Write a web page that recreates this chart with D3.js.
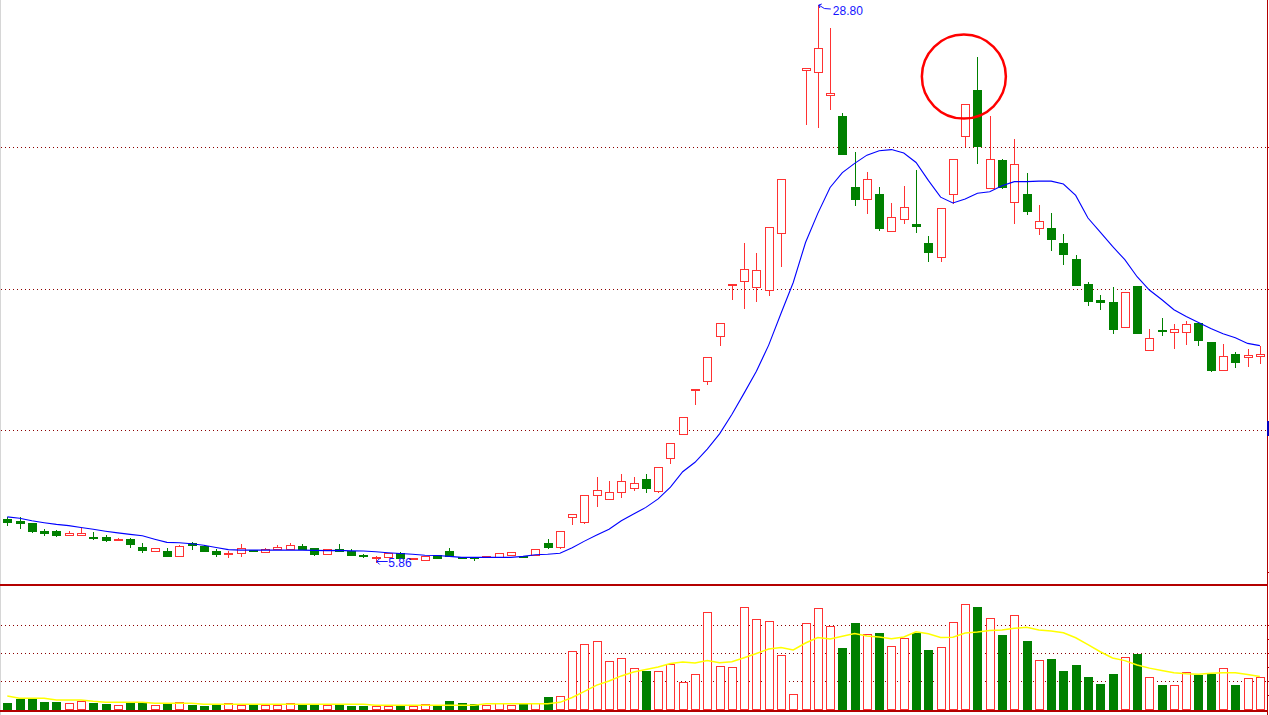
<!DOCTYPE html>
<html><head><meta charset="utf-8">
<script src="https://cdn.jsdelivr.net/npm/d3@7"></script>
<style>html,body{margin:0;padding:0;background:#fff;overflow:hidden}svg{display:block}</style>
</head><body><svg id="chart" width="1269" height="715"></svg>
<script>
// ---- data ----
const openP = [7.61,7.54,7.45,7.12,7.12,6.94,6.96,6.88,6.87,6.76,
  6.79,6.46,6.28,6.29,6.07,6.62,6.51,6.29,6.16,6.20,
  6.33,6.26,6.39,6.39,6.50,6.40,6.16,6.36,6.28,6.14,
  6.02,6.03,6.20,5.95,5.91,6.12,6.29,6.04,6.05,6.05,
  6.06,6.14,6.08,6.14,6.62,6.47,7.68,7.48,8.59,8.42,
  8.71,8.88,9.25,8.78,10.11,11.10,12.93,13.29,15.14,17.25,
  17.41,17.16,17.04,19.39,null,26.13,26.03,25.08,24.22,21.28,
  20.79,21.01,19.47,19.97,19.76,18.99,18.40,21.01,23.39,25.28,
  21.24,22.41,20.67,21.01,19.60,19.61,18.99,18.33,17.30,16.64,
  16.56,15.51,17.22,14.57,15.41,15.33,15.31,15.69,14.90,13.74,
  14.41,14.28,14.34];
const highP = [7.71,7.68,7.45,7.21,7.16,7.12,7.25,7.09,6.95,6.83,
  6.83,6.62,6.40,6.42,6.55,6.66,6.53,6.36,6.28,6.58,
  6.34,6.40,6.54,6.61,6.58,6.40,6.36,6.58,6.36,6.18,
  6.07,6.21,6.25,5.99,6.09,6.12,6.42,6.05,6.05,6.09,
  6.20,6.24,6.08,6.36,6.79,7.10,7.81,8.59,9.34,9.18,
  9.47,9.34,9.47,9.77,10.73,11.80,12.98,14.28,15.71,17.28,
  18.99,18.58,19.65,21.61,null,26.19,28.80,27.84,24.34,22.74,
  21.92,21.28,20.63,21.34,22.00,19.28,20.42,22.44,24.71,26.66,
  24.22,22.44,23.28,21.87,20.56,20.23,19.36,18.49,17.38,16.85,
  17.18,16.97,17.22,15.44,15.89,15.65,15.77,15.69,14.90,14.83,
  14.50,14.62,14.74];
const lowP = [7.36,7.25,7.08,6.95,6.92,6.94,6.96,6.78,6.72,6.76,
  6.47,6.25,6.28,6.10,6.07,6.39,6.28,6.07,6.03,6.09,
  6.30,6.26,6.39,6.39,6.36,6.14,6.16,6.31,6.14,6.06,
  5.86,6.03,6.00,5.95,5.91,6.02,6.10,6.02,5.91,6.05,
  6.06,6.14,6.07,6.14,6.43,6.43,7.42,7.45,8.16,8.42,
  8.53,8.82,8.74,8.74,9.91,11.10,12.34,13.16,14.77,16.69,
  16.32,16.61,16.86,18.05,null,23.91,23.78,24.53,22.67,20.57,
  20.24,19.51,19.47,19.83,19.45,18.26,18.26,20.64,23.00,22.27,
  21.24,21.27,19.83,20.20,19.37,18.71,18.14,17.26,16.43,16.28,
  15.29,15.51,15.29,14.57,15.21,14.67,14.84,14.80,13.71,13.74,
  13.89,13.93,14.06];
const closeP = [7.50,7.46,7.12,7.04,6.95,7.04,7.02,6.83,6.76,6.79,
  6.57,6.35,6.40,6.10,6.50,6.53,6.31,6.18,6.21,6.40,
  6.31,6.36,6.46,6.54,6.36,6.18,6.36,6.31,6.14,6.10,
  6.05,6.21,6.00,5.99,6.09,6.02,6.10,6.03,6.04,6.09,
  6.20,6.24,6.07,6.36,6.46,7.10,7.81,8.59,8.80,8.71,
  9.17,9.08,8.90,9.77,10.73,11.80,12.98,14.28,15.71,17.28,
  17.91,17.86,19.65,21.61,null,26.19,27.02,25.16,22.67,20.82,
  21.62,19.61,20.05,20.46,19.70,18.61,20.42,22.44,24.71,23.00,
  22.44,21.31,22.23,20.32,19.88,19.17,18.55,17.26,16.61,16.57,
  15.46,16.97,15.29,15.06,15.36,15.44,15.64,15.00,13.77,14.32,
  14.10,14.36,14.41];
const priceMA = [7.70,7.64,7.54,7.46,7.39,7.34,7.26,7.19,7.11,7.04,
  6.98,6.92,6.78,6.65,6.63,6.59,6.53,6.44,6.35,6.33,
  6.33,6.33,6.33,6.33,6.33,6.32,6.31,6.32,6.30,6.29,
  6.26,6.22,6.19,6.16,6.12,6.11,6.07,6.03,6.03,6.03,
  6.03,6.03,6.07,6.14,6.16,6.20,6.43,6.70,6.95,7.19,
  7.54,7.82,8.09,8.44,8.93,9.56,9.95,10.49,11.12,11.92,
  12.80,13.70,14.78,16.08,17.36,19.01,20.21,21.28,21.89,22.27,
  22.61,22.79,22.84,22.70,22.31,21.57,20.88,20.64,20.80,21.04,
  21.10,21.35,21.52,21.52,21.54,21.54,21.42,20.95,20.02,19.44,
  18.85,18.30,17.60,17.05,16.66,16.24,15.96,15.71,15.46,15.25,
  15.08,14.85,14.76];
const volume = [0.67,1.10,1.20,0.78,0.78,0.64,0.88,0.67,0.56,0.43,
  0.67,0.67,0.43,0.56,0.74,0.46,0.35,0.46,0.64,0.46,
  0.46,0.46,0.46,0.64,0.46,0.46,0.43,0.46,0.35,0.35,
  0.35,0.32,0.35,0.32,0.53,0.35,0.88,0.67,0.53,0.46,
  0.64,0.46,0.53,0.64,1.31,1.38,6.17,6.91,7.23,5.11,
  5.43,4.36,4.07,4.04,4.79,2.87,3.72,10.32,4.57,4.47,
  10.85,9.57,9.36,5.74,1.60,9.15,10.74,8.83,6.52,9.18,
  7.98,8.12,6.70,7.55,8.12,6.31,6.60,9.26,11.17,10.88,
  9.68,7.90,10.00,7.27,5.21,5.35,4.07,4.71,3.44,2.69,
  3.76,5.53,5.88,3.40,2.59,2.55,3.94,3.68,3.76,4.36,
  2.59,3.30,3.40];
const volumeMA = [1.41,1.17,1.17,1.17,0.99,0.99,0.99,0.85,0.74,0.74,
  0.74,0.74,0.64,0.64,0.64,0.64,0.53,0.53,0.53,0.53,
  0.53,0.53,0.53,0.53,0.53,0.53,0.53,0.53,0.53,0.53,
  0.43,0.43,0.43,0.43,0.43,0.43,0.43,0.43,0.43,0.60,
  0.60,0.60,0.60,0.60,0.60,0.74,1.26,1.91,2.57,3.01,
  3.55,3.97,4.23,4.50,4.87,5.03,4.93,5.20,4.95,5.07,
  5.49,5.94,6.41,6.57,6.31,7.05,7.64,7.48,7.77,8.05,
  7.81,7.68,7.50,7.69,8.24,8.04,7.63,7.66,8.12,8.22,
  8.39,8.44,8.62,8.72,8.43,8.32,8.14,7.61,6.88,6.12,
  5.46,5.18,4.71,4.38,4.13,3.88,3.78,3.73,3.84,3.90,
  3.90,3.70,3.50];
const priceGrid = [22.93, 17.08, 11.27];
const priceTicks = [22.93, 17.08, 11.27, 5.41];
const volumeGrid = [3, 6, 9];
const volumeTicks = [1.5, 3, 4.5, 6, 7.5, 9];
const circleNote = {index: 78, price: 25.85, radius: 42};
const rightMarker = {from: 11.64, to: 11.02};
const days = d3.range(openP.length);

// ---- scales ----
const svg = d3.select('#chart');
const x = d3.scalePoint().domain(days).range([7.3, 1259.9]);
const yP = d3.scaleLinear().domain([5.86, 28.80]).range([561.5, 5]);
const yV = d3.scaleLinear().domain([0, 13.33]).range([709.3, 584]);
const RED = '#ff3232', GREEN = '#008000', GRID = '#8b0000', FRAME = '#b40000';
const LEFT = 1, RIGHT = 1267;

// ---- frame and grid ----
svg.append('rect').attr('width', 1269).attr('height', 715).attr('fill', '#fff');
svg.append('line').attr('x1', 0.5).attr('x2', 0.5).attr('y1', 0).attr('y2', 715)
  .attr('stroke', '#d6d6d6').attr('stroke-width', 1);
const gridG = svg.append('g').attr('shape-rendering', 'crispEdges');
priceGrid.forEach(v => {
  const y = Math.round(yP(v)) + 0.5;
  gridG.append('line').attr('x1', LEFT).attr('x2', RIGHT - 1).attr('y1', y).attr('y2', y)
    .attr('stroke', GRID).attr('stroke-dasharray', '1,3');
});
volumeGrid.forEach(v => {
  const y = Math.round(yV(v)) + 0.5;
  gridG.append('line').attr('x1', LEFT).attr('x2', RIGHT - 1).attr('y1', y).attr('y2', y)
    .attr('stroke', GRID).attr('stroke-dasharray', '1,3');
});

// ---- candles ----
const cg = svg.append('g').attr('shape-rendering', 'crispEdges');
const cx = i => Math.round(x(i));
days.filter(i => openP[i] != null).forEach(i => {
  const up = closeP[i] >= openP[i];
  const col = up ? RED : GREEN;
  const yh = Math.round(yP(highP[i])), yl = Math.round(yP(lowP[i]));
  const yo = Math.round(yP(openP[i])), yc = Math.round(yP(closeP[i]));
  const c = cx(i);
  cg.append('line').attr('x1', c + 0.5).attr('x2', c + 0.5).attr('y1', yh).attr('y2', yl + 1)
    .attr('stroke', col).attr('stroke-width', 1);
  if (up) {
    const t = Math.min(yo, yc), b = Math.max(yo, yc);
    cg.append('path')
      .attr('d', `M${c - 3.5},${t + 0.5}H${c + 4.5}V${b + 0.5}H${c - 3.5}Z`)
      .attr('fill', '#fff').attr('stroke', col).attr('stroke-width', 1);
  } else {
    const t = Math.min(yo, yc), b = Math.max(yo, yc);
    cg.append('rect').attr('x', c - 4).attr('y', t).attr('width', 9)
      .attr('height', Math.max(b - t + 1, 2)).attr('fill', col);
  }
});

// ---- price MA ----
svg.append('path').datum(days)
  .attr('d', d3.line().x(i => x(i)).y(i => yP(priceMA[i])))
  .attr('fill', 'none').attr('stroke', '#0000ff').attr('stroke-width', 1.1);

// ---- volume bars ----
const vg = svg.append('g').attr('shape-rendering', 'crispEdges');
const base = Math.round(yV(0));
days.forEach(i => {
  const up = openP[i] == null ? true : closeP[i] >= openP[i];
  const c = cx(i);
  const t = Math.round(yV(volume[i]));
  if (up) {
    vg.append('path')
      .attr('d', `M${c - 3.5},${t + 0.5}H${c + 4.5}V${base + 0.5}H${c - 3.5}Z`)
      .attr('fill', '#fff').attr('stroke', RED).attr('stroke-width', 1);
  } else {
    vg.append('rect').attr('x', c - 4).attr('y', t).attr('width', 9)
      .attr('height', base - t + 1).attr('fill', GREEN);
  }
});
svg.append('path').datum(days)
  .attr('d', d3.line().x(i => x(i)).y(i => yV(volumeMA[i])))
  .attr('fill', 'none').attr('stroke', '#ffff00').attr('stroke-width', 1.5);

// ---- panel separators and right axis ----
const fg = svg.append('g').attr('shape-rendering', 'crispEdges');
fg.append('rect').attr('x', 0).attr('y', Math.round(yV.range()[1])).attr('width', RIGHT).attr('height', 2).attr('fill', FRAME);
fg.append('rect').attr('x', 0).attr('y', 710).attr('width', RIGHT).attr('height', 2).attr('fill', FRAME);
fg.append('rect').attr('x', RIGHT).attr('y', 0).attr('width', 1).attr('height', 715).attr('fill', FRAME);
priceTicks.forEach(v => fg.append('rect').attr('x', RIGHT).attr('y', Math.round(yP(v))).attr('width', 3).attr('height', 1).attr('fill', FRAME));
volumeTicks.forEach(v => fg.append('rect').attr('x', RIGHT).attr('y', Math.round(yV(v))).attr('width', 3).attr('height', 1).attr('fill', FRAME));
fg.append('rect').attr('x', RIGHT).attr('y', Math.round(yP(rightMarker.from)))
  .attr('width', 2).attr('height', Math.round(yP(rightMarker.to)) - Math.round(yP(rightMarker.from)))
  .attr('fill', '#0000c0');

// ---- high / low labels ----
const fmt = d3.format('.2f');
const valid = days.filter(i => highP[i] != null);
const hi = valid.reduce((a, b) => highP[b] > highP[a] ? b : a);
const lo = valid.reduce((a, b) => lowP[b] < lowP[a] ? b : a);
const LBL = '#1414ff';
{
  const c = x(hi), y = yP(highP[hi]);
  svg.append('path').attr('d', `M${c + 1},${y}Q${c + 6},${y + 5} ${c + 13},${y + 4}`)
    .attr('fill', 'none').attr('stroke', LBL).attr('stroke-width', 1);
  svg.append('path').attr('d', `M${c + 4},${y - 1}L${c + 1},${y}L${c + 2},${y + 3}`)
    .attr('fill', 'none').attr('stroke', LBL).attr('stroke-width', 1);
  svg.append('text').attr('x', c + 15).attr('y', y + 10).text(fmt(highP[hi]))
    .attr('font-family', 'Liberation Sans, Arial, sans-serif').attr('font-size', 12).attr('fill', LBL);
}
{
  const c = x(lo), y = yP(lowP[lo]);
  svg.append('path').attr('d', `M${c + 1},${y}H${c + 12}`)
    .attr('fill', 'none').attr('stroke', LBL).attr('stroke-width', 1);
  svg.append('path').attr('d', `M${c + 4},${y - 3}L${c + 1},${y}L${c + 4},${y + 3}`)
    .attr('fill', 'none').attr('stroke', LBL).attr('stroke-width', 1);
  svg.append('text').attr('x', c + 12.5).attr('y', y + 5.5).text(fmt(lowP[lo]))
    .attr('font-family', 'Liberation Sans, Arial, sans-serif').attr('font-size', 12).attr('fill', LBL);
}

// ---- circle annotation ----
svg.append('circle').attr('cx', x(circleNote.index) - 1.3).attr('cy', yP(circleNote.price))
  .attr('r', circleNote.radius).attr('fill', 'none').attr('stroke', '#ff0000').attr('stroke-width', 2.5);
</script>
</body></html>
